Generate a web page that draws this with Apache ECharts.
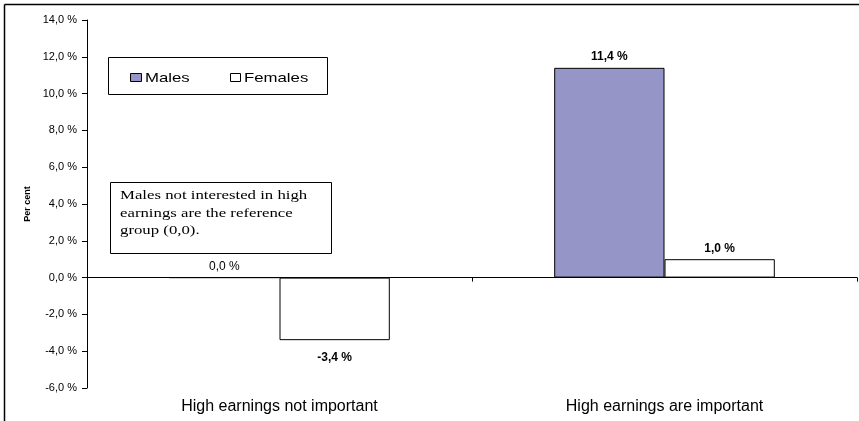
<!DOCTYPE html>
<html><head><meta charset="utf-8">
<script src="https://cdn.jsdelivr.net/npm/echarts@6/dist/echarts.min.js"></script>
<style>html,body{margin:0;padding:0;background:#fff}#c{width:859px;height:421px}</style>
</head><body><div id="c"></div>
<script>
const categories = ["High earnings not important", "High earnings are important"];
const males = [0.0, 11.4];
const females = [-3.4, 1.0];
const yMin = -6, yMax = 14, yInterval = 2;
const noteLines = ["Males not interested in high", "earnings are the reference", "group (0,0)."];

const fmt = v => v.toFixed(1).replace('.', ',') + ' %';
function items(vals) {
  return vals.map(v => ({
    value: v,
    label: {
      position: v < 0 ? 'bottom' : 'top',
      distance: v < 0 ? 12 : (v === 0 ? 4 : 5),
      fontWeight: v === 0 ? 'normal' : 'bold'
    }
  }));
}
const chart = echarts.init(document.getElementById('c'), null, {renderer: 'canvas'});
const baseLabel = {show: true, fontFamily: 'Liberation Sans, Arial', fontSize: 12, color: '#000', formatter: p => fmt(p.value)};
const SX = 1.29;
chart.setOption({
  animation: false,
  grid: {left: 87, right: 2, top: 20, bottom: 33, containLabel: false, outerBoundsMode: 'none'},
  legend: {show: false},
  xAxis: {
    type: 'category', data: categories,
    axisLine: {onZero: true, lineStyle: {color: '#000', width: 1}},
    axisTick: {show: true, length: 4, inside: false, lineStyle: {color: '#000'}},
    axisLabel: {margin: 11, fontFamily: 'Liberation Sans, Arial', fontSize: 16, color: '#000'},
    splitLine: {show: false}
  },
  yAxis: {
    type: 'value', min: yMin, max: yMax, interval: yInterval,
    name: 'Per cent', nameLocation: 'middle', nameGap: 51,
    nameTextStyle: {fontFamily: 'Liberation Sans, Arial', fontSize: 9, fontWeight: 'bold', color: '#000'},
    axisLine: {show: true, lineStyle: {color: '#000', width: 1}},
    axisTick: {show: true, length: 5, lineStyle: {color: '#000'}},
    axisLabel: {margin: 10, formatter: v => fmt(v), fontFamily: 'Liberation Sans, Arial', fontSize: 11, color: '#000'},
    splitLine: {show: false}
  },
  series: [
    {name: 'Males', type: 'bar', data: items(males), barGap: '0%', barCategoryGap: '42.7%',
     itemStyle: {color: '#9595c8', borderColor: '#000', borderWidth: 1},
     label: Object.assign({}, baseLabel)},
    {name: 'Females', type: 'bar', data: items(females), barGap: '0%', barCategoryGap: '42.7%',
     itemStyle: {color: '#fff', borderColor: '#000', borderWidth: 1},
     label: Object.assign({}, baseLabel)}
  ],
  graphic: [
    {type: 'line', shape: {x1: 4.5, y1: 4.5, x2: 859, y2: 4.5}, style: {stroke: '#000', lineWidth: 1.5}, silent: true},
    {type: 'line', shape: {x1: 4.5, y1: 4.5, x2: 4.5, y2: 421}, style: {stroke: '#000', lineWidth: 1.5}, silent: true},
    {type: 'rect', shape: {x: 108.5, y: 57.5, width: 219, height: 37}, style: {fill: '#fff', stroke: '#000', lineWidth: 1}},
    {type: 'rect', shape: {x: 130.5, y: 73.5, width: 11, height: 8}, style: {fill: '#9595c8', stroke: '#000', lineWidth: 1}},
    {type: 'text', x: 145, y: 78, scaleX: SX, style: {text: 'Males', font: '13px Liberation Sans, Arial', fill: '#000', verticalAlign: 'middle'}},
    {type: 'rect', shape: {x: 230.5, y: 73.5, width: 10, height: 8}, style: {fill: '#fff', stroke: '#000', lineWidth: 1}},
    {type: 'text', x: 244, y: 78, scaleX: SX, style: {text: 'Females', font: '13px Liberation Sans, Arial', fill: '#000', verticalAlign: 'middle'}},
    {type: 'rect', shape: {x: 110.5, y: 182.5, width: 221, height: 71}, style: {fill: '#fff', stroke: '#000', lineWidth: 1}},
    {type: 'text', x: 120, y: 187, scaleX: SX, style: {text: noteLines.join('\n'), font: '13px Liberation Serif, Times New Roman', lineHeight: 17.5, fill: '#000'}}
  ]
});
</script></body></html>
